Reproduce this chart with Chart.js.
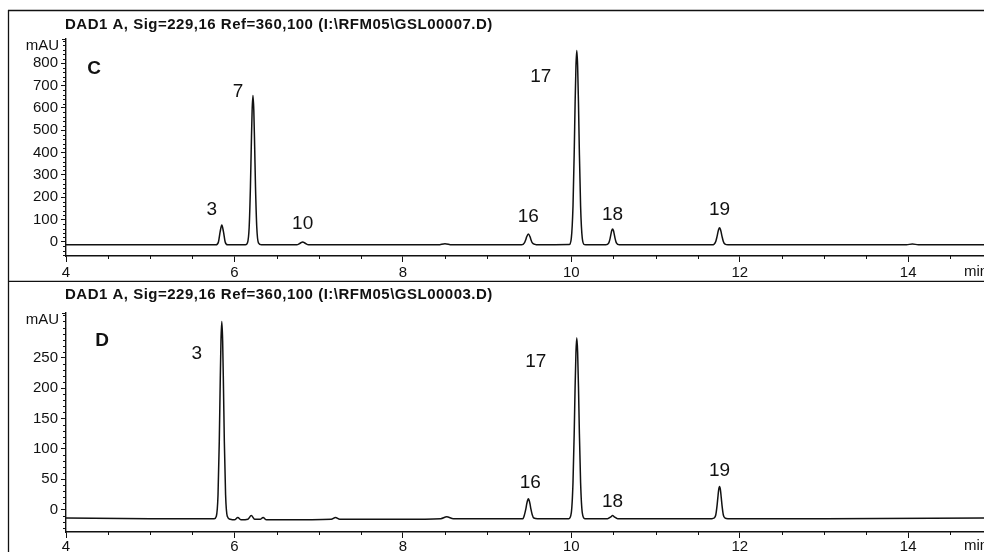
<!DOCTYPE html>
<html>
<head>
<meta charset="utf-8">
<script src="https://cdn.jsdelivr.net/npm/chart.js@4.4.1/dist/chart.umd.min.js"></script>
<style>
    html, body { margin: 0; padding: 0; background: #fff; }
    body { width: 984px; height: 552px; position: relative; overflow: hidden; }
    canvas { position: absolute; left: 0; display: block; }
    #chartC { top: 0; }
    #chartD { top: 282px; }
</style>
</head>
<body>
<canvas id="chartC" width="984" height="282"></canvas>
<canvas id="chartD" width="984" height="270"></canvas>
<script>
// Axis ticks
const xTicks = [4, 6, 8, 10, 12, 14];
const cYTicks = [0, 100, 200, 300, 400, 500, 600, 700, 800];
const dYTicks = [0, 50, 100, 150, 200, 250];

// Panel C trace (time in min, signal in mAU)
const cTimes = [
    4.00, 5.00, 5.78,
    5.81, 5.83, 5.85, 5.87, 5.89, 5.92,
    6.13, 6.155, 6.175, 6.19, 6.20, 6.21, 6.22, 6.23, 6.24, 6.25, 6.265, 6.285, 6.32,
    6.74, 6.78, 6.81, 6.84, 6.88,
    8.42, 8.50, 8.58,
    9.41, 9.445, 9.46, 9.47, 9.49, 9.51, 9.52, 9.535, 9.57, 9.60,
    9.975, 10.00, 10.02, 10.035, 10.045, 10.055, 10.065, 10.075, 10.085, 10.095, 10.11, 10.13, 10.155, 10.20,
    10.41, 10.445, 10.46, 10.47, 10.48, 10.49, 10.50, 10.51, 10.52, 10.535, 10.57,
    11.67, 11.695, 11.715, 11.73, 11.74, 11.75, 11.76, 11.77, 11.78, 11.79, 11.805, 11.825, 11.86,
    13.98, 14.05, 14.12, 14.90
];
const cSignal = [
    -13, -13, -13,
    0, 45, 76, 45, 0, -13,
    -13, -4, 67, 248, 429, 589, 656, 589, 429, 248, 67, -4, -13,
    -13, -6, 0, -6, -13,
    -13, -8, -13,
    -13, -3, 11, 23, 36, 23, 11, -3, -11, -13,
    -12, 17, 161, 413, 622, 787, 857, 787, 622, 413, 161, 17, -12, -13,
    -13, -4, 15, 34, 51, 58, 51, 34, 15, -4, -13,
    -13, -10, 2, 24, 42, 57, 63, 57, 42, 24, 2, -10, -13,
    -13, -9, -13, -13
];

// Panel D trace
const dTimes = [
    4.00, 5.00, 5.76,
    5.785, 5.805, 5.82, 5.83, 5.84, 5.85, 5.86, 5.87, 5.88, 5.895, 5.915, 5.95,
    6.00, 6.04, 6.08, 6.16, 6.20, 6.24, 6.31, 6.34, 6.38, 6.60, 7.15, 7.20, 7.25, 8.00, 8.45, 8.52, 8.60,
    9.425, 9.445, 9.46, 9.47, 9.48, 9.49, 9.50, 9.51, 9.52, 9.535, 9.555, 9.60,
    9.97, 10.00, 10.02, 10.035, 10.045, 10.055, 10.065, 10.075, 10.085, 10.095, 10.11, 10.13, 10.16,
    10.43, 10.47, 10.49, 10.51, 10.55,
    11.67, 11.695, 11.715, 11.73, 11.74, 11.75, 11.76, 11.77, 11.78, 11.79, 11.805, 11.825, 11.86,
    13.00, 14.90
];
const dSignal = [
    -14, -15, -15,
    -11, 24, 112, 200, 278, 310, 278, 200, 112, 24, -11, -16,
    -17, -13, -17, -16, -10, -16, -16, -13, -17, -17, -16, -13, -16, -16, -15, -12, -15,
    -15, -8, 1, 9, 15, 18, 15, 9, 1, -8, -14, -15,
    -15, -5, 45, 131, 203, 259, 283, 259, 203, 131, 45, -5, -15,
    -15, -12, -10, -12, -15,
    -15, -14, -9, 6, 20, 33, 38, 33, 20, 6, -9, -14, -15,
    -15, -14
];

// Peak annotations
const cPeakNames = ['3', '7', '10', '16', '17', '18', '19'];
const cPeakTimes = [5.85, 6.22, 6.81, 9.49, 10.065, 10.49, 11.76];
const cPeakHeights = [76, 656, 0, 36, 857, 58, 63];
const dPeakNames = ['3', '16', '17', '18', '19'];
const dPeakTimes = [5.85, 9.49, 10.065, 10.49, 11.76];
const dPeakHeights = [310, 18, 283, -10, 38];

const INK = '#111';
const FONT = "'Liberation Sans', Arial, Helvetica, sans-serif";

Chart.defaults.font.family = FONT;
Chart.defaults.color = INK;

// Frame, minor ticks, titles and peak labels
const decorPlugin = {
    id: 'decor',
    afterDraw(chart, args, opts) {
        const ctx = chart.ctx;
        const xs = chart.scales.x;
        const ys = chart.scales.y;
        const area = chart.chartArea;
        ctx.save();
        ctx.strokeStyle = INK;
        ctx.fillStyle = INK;

        // frame lines
        ctx.lineWidth = 1.3;
        ctx.beginPath();
        opts.frame.forEach(([x1, y1, x2, y2]) => {
            ctx.moveTo(x1, y1);
            ctx.lineTo(x2, y2);
        });
        ctx.stroke();

        // minor ticks
        ctx.lineWidth = 1;
        ctx.beginPath();
        for (let t = 4.5; t <= xs.max; t += 0.5) {
            if (xTicks.includes(t)) continue;
            const px = Math.round(xs.getPixelForValue(t)) + 0.5;
            ctx.moveTo(px, area.bottom);
            ctx.lineTo(px, area.bottom + 3);
        }
        const step = opts.yMinor;
        for (let v = Math.ceil(ys.min / step) * step; v <= ys.max; v += step) {
            if (opts.yTicks.includes(v)) continue;
            const py = Math.round(ys.getPixelForValue(v)) + 0.5;
            ctx.moveTo(area.left, py);
            ctx.lineTo(area.left - 3, py);
        }
        // cap at top of y axis
        ctx.moveTo(area.left, area.top + 0.5);
        ctx.lineTo(area.left - 4, area.top + 0.5);
        ctx.stroke();

        // title
        ctx.font = 'bold 15px ' + FONT;
        ctx.letterSpacing = '0.5px';
        ctx.textAlign = 'left';
        ctx.textBaseline = 'middle';
        ctx.fillText(opts.title, 65, opts.titleY);
        ctx.letterSpacing = '0px';

        // units
        ctx.font = '15px ' + FONT;
        ctx.textAlign = 'right';
        ctx.fillText('mAU', 59, area.top + 7);
        ctx.textAlign = 'left';
        ctx.fillText('min', 964, opts.minY);

        // panel letter
        ctx.font = 'bold 19px ' + FONT;
        ctx.textAlign = 'center';
        ctx.fillText(opts.letter, opts.letterX, opts.letterY);

        // peak numbers
        ctx.font = '19px ' + FONT;
        opts.names.forEach((name, i) => {
            const px = xs.getPixelForValue(opts.times[i]) + opts.offsets[i][0];
            const py = ys.getPixelForValue(opts.heights[i]) + opts.offsets[i][1];
            ctx.fillText(name, px, py);
        });
        ctx.restore();
    }
};

function makeChart(canvasId, cfg) {
    const points = cfg.times.map((t, i) => ({ x: t, y: cfg.signal[i] }));
    return new Chart(document.getElementById(canvasId), {
        type: 'line',
        data: {
            datasets: [{
                data: points,
                borderColor: INK,
                borderWidth: 1.5,
                pointRadius: 0,
                cubicInterpolationMode: 'monotone',
                tension: 0.3,
                fill: false
            }]
        },
        options: {
            responsive: false,
            animation: false,
            events: [],
            layout: { padding: { top: cfg.top, left: 0, right: 0, bottom: 0 } },
            plugins: {
                legend: { display: false },
                tooltip: { enabled: false },
                decor: cfg.decor
            },
            scales: {
                x: {
                    type: 'linear',
                    min: 4,
                    max: 14.9,
                    afterFit: s => { s.height = cfg.xHeight; },
                    afterBuildTicks: s => { s.ticks = xTicks.map(v => ({ value: v })); },
                    grid: { drawOnChartArea: false, drawTicks: true, tickLength: 6, color: INK, lineWidth: 1 },
                    border: { display: true, color: INK, width: 1.4 },
                    ticks: { padding: cfg.xPad, maxRotation: 0, autoSkip: false, font: { size: 15 }, color: INK }
                },
                y: {
                    type: 'linear',
                    min: cfg.yMin,
                    max: cfg.yMax,
                    afterFit: s => { s.width = 66; },
                    afterBuildTicks: s => { s.ticks = cfg.decor.yTicks.map(v => ({ value: v })); },
                    grid: { drawOnChartArea: false, drawTicks: true, tickLength: 5, color: INK, lineWidth: 1 },
                    border: { display: true, color: INK, width: 1.4 },
                    ticks: { padding: 3, autoSkip: false, font: { size: 15 }, color: INK }
                }
            }
        },
        plugins: [decorPlugin]
    });
}

makeChart('chartC', {
    times: cTimes,
    signal: cSignal,
    top: 39,
    xHeight: 26,
    xPad: 2,
    yMin: -63,
    yMax: 909,
    decor: {
        frame: [[8.5, 10, 8.5, 282], [8, 10.5, 984, 10.5], [8, 281.5, 984, 281.5]],
        yTicks: cYTicks,
        yMinor: 20,
        title: 'DAD1 A, Sig=229,16 Ref=360,100 (I:\\RFM05\\GSL00007.D)',
        titleY: 25,
        minY: 272,
        letter: 'C',
        letterX: 94,
        letterY: 69,
        names: cPeakNames,
        times: cPeakTimes,
        heights: cPeakHeights,
        offsets: [[-10, -15], [-15, -4], [0, -18], [0, -17], [-36, 26], [0, -14], [0, -18]]
    }
});

makeChart('chartD', {
    times: dTimes,
    signal: dSignal,
    top: 31,
    xHeight: 20,
    xPad: 0,
    yMin: -37,
    yMax: 324,
    decor: {
        frame: [[8.5, 0, 8.5, 270]],
        yTicks: dYTicks,
        yMinor: 10,
        title: 'DAD1 A, Sig=229,16 Ref=360,100 (I:\\RFM05\\GSL00003.D)',
        titleY: 13,
        minY: 264,
        letter: 'D',
        letterX: 102,
        letterY: 59,
        names: dPeakNames,
        times: dPeakTimes,
        heights: dPeakHeights,
        offsets: [[-25, 32], [2, -16], [-41, 24], [0, -14], [0, -16]]
    }
});
</script>
</body>
</html>
